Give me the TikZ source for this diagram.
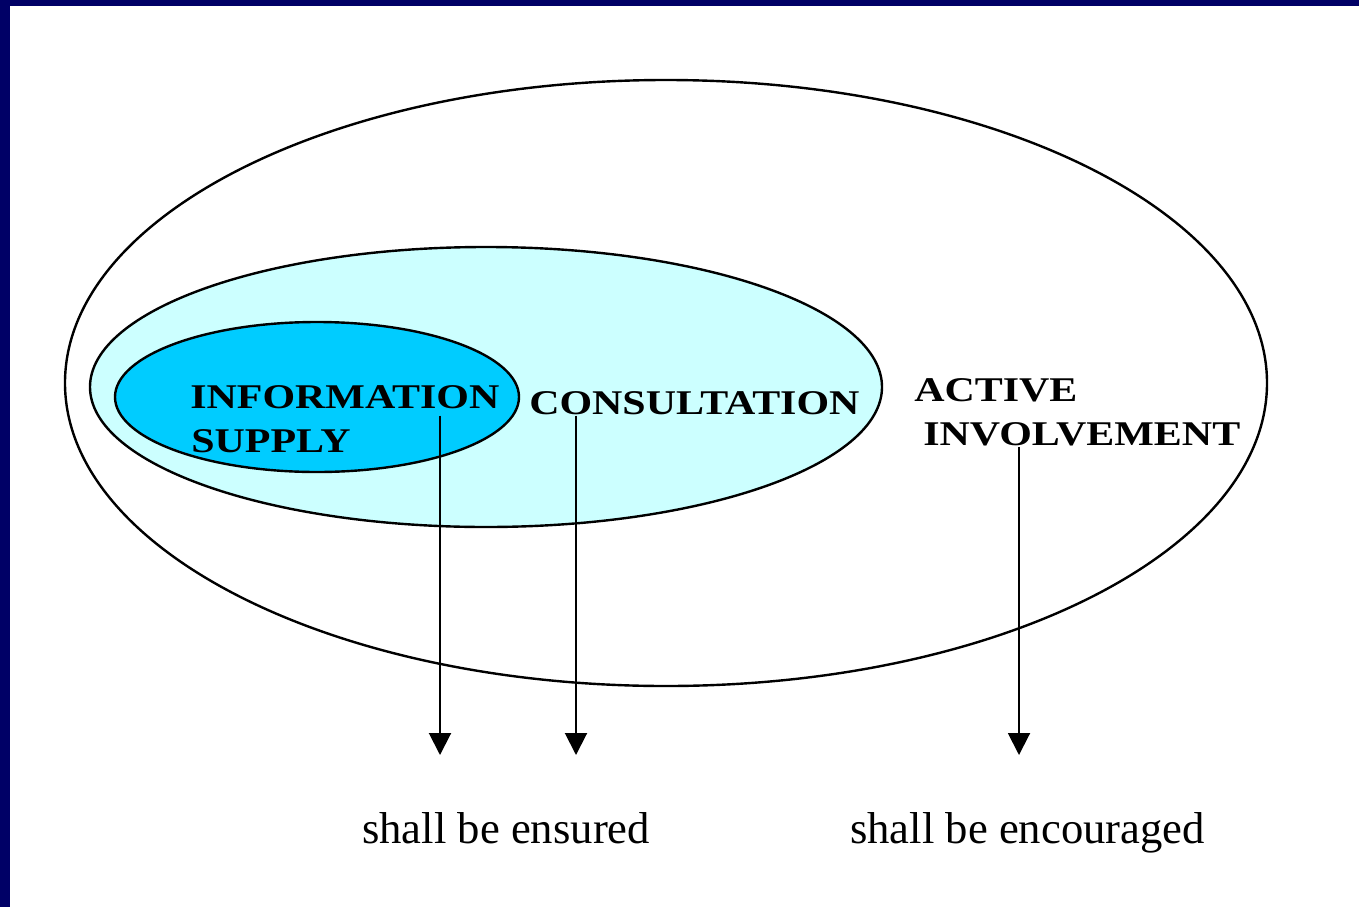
\documentclass[tikz,border=0pt]{standalone}
\usepackage{fontspec}
\setmainfont{Liberation Serif}
\newfontfamily\capsfont[FakeStretch=1.21]{Liberation Serif}
\usetikzlibrary{arrows.meta}

\definecolor{navyframe}{RGB}{0,0,102}
\definecolor{paleblue}{RGB}{204,255,255}
\definecolor{skyblue}{RGB}{0,204,255}

\tikzset{
  ring/.style={draw=black, line width=1.8pt},
  capslabel/.style={anchor=base west, inner sep=0.75pt, font=\capsfont\bfseries\fontsize{26}{30}\selectfont},
  notelabel/.style={anchor=base west, inner sep=0.75pt, font=\fontsize{33.5}{38}\selectfont},
  downarrow/.style={draw=black, line width=1.5pt, -{Triangle[width=16.5pt,length=16.5pt]}}
}

\begin{document}
\begin{tikzpicture}[x=0.75pt,y=0.75pt,yscale=-1,xscale=1]
\useasboundingbox (0,0) rectangle (1359,907);

%Frame
\fill [navyframe] (0,0) rectangle (1359,907);
\fill [white] (10,6) rectangle (1359,907);

%Ellipses
\draw [ring] (666,383) ellipse (601 and 303);
\draw [ring, fill=paleblue] (486,387) ellipse (396 and 140);
\draw [ring, fill=skyblue] (317,397) ellipse (202 and 75);

% Text Node
\node [capslabel] (info) at (189,408) {INFORMATION};
% Text Node
\node [capslabel] (supply) at (190,452) {SUPPLY};
% Text Node
\node [capslabel] (consult) at (528,414) {CONSULTATION};
% Text Node
\node [capslabel] (active) at (913,401) {ACTIVE};
% Text Node
\node [capslabel] (involve) at (922,445) {INVOLVEMENT};

% Text Node
\node [notelabel] (ensured) at (361,843) {shall be ensured};
% Text Node
\node [notelabel] (encouraged) at (849,843) {shall be encouraged};

%Arrow tips
\coordinate (tipA) at (440,755);
\coordinate (tipB) at (576,755);
\coordinate (tipC) at (1019,755);

%Arrows
\draw [downarrow] (info.south -| tipA) ++(0,6) -- (tipA);
\draw [downarrow] (consult.south -| tipB) -- (tipB);
\draw [downarrow] (involve.south -| tipC) -- (tipC);

\end{tikzpicture}
\end{document}
